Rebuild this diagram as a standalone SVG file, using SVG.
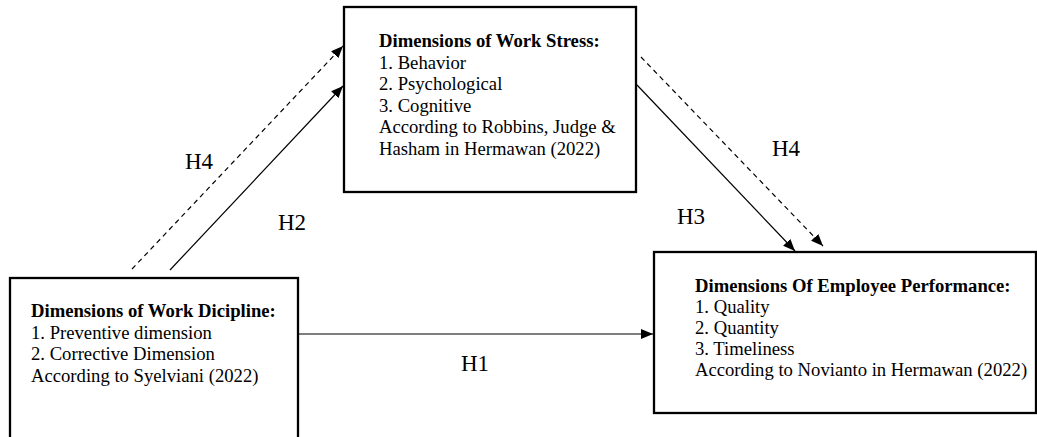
<svg xmlns="http://www.w3.org/2000/svg" width="1037" height="437" viewBox="0 0 1037 437">
<style>
.box{fill:#fff;stroke:#000;stroke-width:2.3}
.t{font-family:"Liberation Serif","Times New Roman",serif;font-size:18.67px;fill:#000}
.b{font-weight:bold}
.lbl{font-family:"Liberation Serif","Times New Roman",serif;font-size:23px;fill:#000}
.ln{stroke:#000;stroke-width:1.2;fill:none}
.dash{stroke-dasharray:5,4}
</style>
<defs>
<marker id="ah" viewBox="0 0 12 10" refX="12" refY="5" markerWidth="12" markerHeight="10" markerUnits="userSpaceOnUse" orient="auto">
<path d="M0,0 L12,5 L0,10 Z" fill="#000"/>
</marker>
</defs>
<rect width="1037" height="437" fill="#fff"/>
<g id="stress">
<rect class="box" x="344" y="7" width="292" height="185"/>
<text class="t b" x="379" y="47">Dimensions of Work Stress:</text>
<text class="t" x="379" y="69">1. Behavior</text>
<text class="t" x="379" y="90">2. Psychological</text>
<text class="t" x="379" y="112">3. Cognitive</text>
<text class="t" x="379" y="133">According to Robbins, Judge &amp;</text>
<text class="t" x="379" y="155">Hasham in Hermawan (2022)</text>
</g>
<g id="discipline">
<rect class="box" x="10" y="278" width="288" height="170"/>
<text class="t b" x="31" y="317">Dimensions of Work Dicipline:</text>
<text class="t" x="31" y="339">1. Preventive dimension</text>
<text class="t" x="31" y="360">2. Corrective Dimension</text>
<text class="t" x="31" y="382">According to Syelviani (2022)</text>
</g>
<g id="performance">
<rect class="box" x="654" y="252" width="382" height="161"/>
<text class="t b" x="695" y="292">Dimensions Of Employee Performance:</text>
<text class="t" x="695" y="313">1. Quality</text>
<text class="t" x="695" y="334">2. Quantity</text>
<text class="t" x="695" y="355">3. Timeliness</text>
<text class="t" x="695" y="376">According to Novianto in Hermawan (2022)</text>
</g>
<g id="connectors">
<line class="ln" x1="299" y1="334" x2="653" y2="334" marker-end="url(#ah)"/>
<line class="ln" x1="170" y1="270" x2="343" y2="86" marker-end="url(#ah)"/>
<line class="ln dash" x1="132" y1="269" x2="343" y2="46" marker-end="url(#ah)"/>
<line class="ln" x1="637" y1="85" x2="795" y2="251" marker-end="url(#ah)"/>
<line class="ln dash" x1="641" y1="57" x2="823" y2="246" marker-end="url(#ah)"/>
</g>
<g id="labels">
<text class="lbl" x="461" y="371">H1</text>
<text class="lbl" x="278" y="230">H2</text>
<text class="lbl" x="677" y="224">H3</text>
<text class="lbl" x="185" y="169">H4</text>
<text class="lbl" x="772" y="156">H4</text>
</g>
</svg>
